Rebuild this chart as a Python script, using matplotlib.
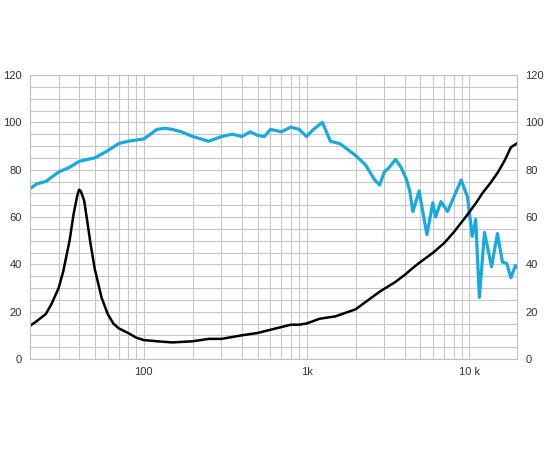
import matplotlib
matplotlib.use("Agg")
import matplotlib.pyplot as plt
from matplotlib.ticker import FixedLocator, NullFormatter

plt.rcParams['font.family'] = ['Liberation Sans', 'DejaVu Sans']

spl_f = [20, 22, 25, 28, 30, 35, 40, 45, 50, 60, 70, 80, 100, 110, 120, 135, 150, 170, 200, 250, 300, 350, 400, 450, 500, 550,
         600, 700, 800, 900, 1000, 1100, 1250, 1400, 1600, 2000, 2300, 2600, 2805, 3000, 3220, 3520,
         3800, 4100, 4300, 4496, 4910, 5480, 5960, 6200, 6680, 7340, 8900, 9730, 10400, 10930, 11510, 12380,
         13670, 14860, 15950, 16970, 17980, 19150, 19500]
spl_v = [72, 74, 75, 77.5, 79, 81, 83.5, 84.3, 85, 88, 91, 92, 93, 95, 97, 97.5, 97, 96, 94, 92, 94, 95, 94, 96, 94.5, 94,
         97, 96, 98, 97, 94, 97, 100, 92, 91, 86, 82, 76, 73.5, 79, 81, 84.3,
         81, 76, 71, 62.3, 71, 52.5, 66, 60, 66.5, 62.3, 75.6, 68.6, 51.8, 59, 26, 53.5,
         39, 53, 41, 40.3, 34.3, 39.5, 39]

imp_f = [20, 22, 25, 27, 30, 32, 35, 37, 39, 40, 41, 43, 45, 47, 50, 55, 60, 65, 70, 80, 90, 100, 120, 150, 200, 250, 300, 400,
         500, 700, 800, 900, 1000, 1200, 1500, 2000, 2805, 3500, 4000, 4500, 5000, 6000, 7000, 8000, 9730, 11000, 12000,
         13500, 15000, 16500, 18000, 19500]
imp_v = [14, 16, 19, 23, 30, 37, 50, 61, 69, 71.5, 71, 67, 58, 49, 38, 26, 19, 15, 13, 11, 9, 8, 7.5, 7, 7.5, 8.5, 8.5, 10,
         11, 13.5, 14.5, 14.5, 15, 17, 18, 21, 28.4, 32.5, 35.5, 38.5, 41, 45, 49, 53.5, 61, 66, 70,
         74.5, 79, 84, 89.5, 91]

fig = plt.figure(figsize=(5.5, 4.5), dpi=100)
ax = fig.add_axes([30/550, 91/450, 487/550, 284/450])
ax.set_xscale('log')
ax.set_xlim(20, 19600)
ax.set_ylim(0, 120)

minor = [m * 10**e for e in range(1, 5) for m in range(2, 10) if 20 <= m * 10**e <= 20000]
ax.xaxis.set_major_locator(FixedLocator([100, 1000, 10000]))
ax.set_xticklabels(['100', '1k', '10 k'])
ax.xaxis.set_minor_locator(FixedLocator(minor))
ax.xaxis.set_minor_formatter(NullFormatter())
ax.set_yticks(range(0, 121, 20))
ax.yaxis.set_minor_locator(FixedLocator(range(0, 121, 5)))
ax.grid(True, which='both', color='#c8c8c8', lw=0.8)
ax.set_axisbelow(True)
ax.tick_params(which='both', length=0, labelsize=8, colors='#333333', pad=6)
ax.tick_params(axis='y', labelright=True)
for s in ax.spines.values():
    s.set_color('#c0c0c0')

ax.plot(spl_f, spl_v, color='#1aa9df', lw=2.3, solid_joinstyle='round')
ax.plot(imp_f, imp_v, color='#000000', lw=1.8, solid_joinstyle='round')

fig.savefig('out.png', dpi=100)
